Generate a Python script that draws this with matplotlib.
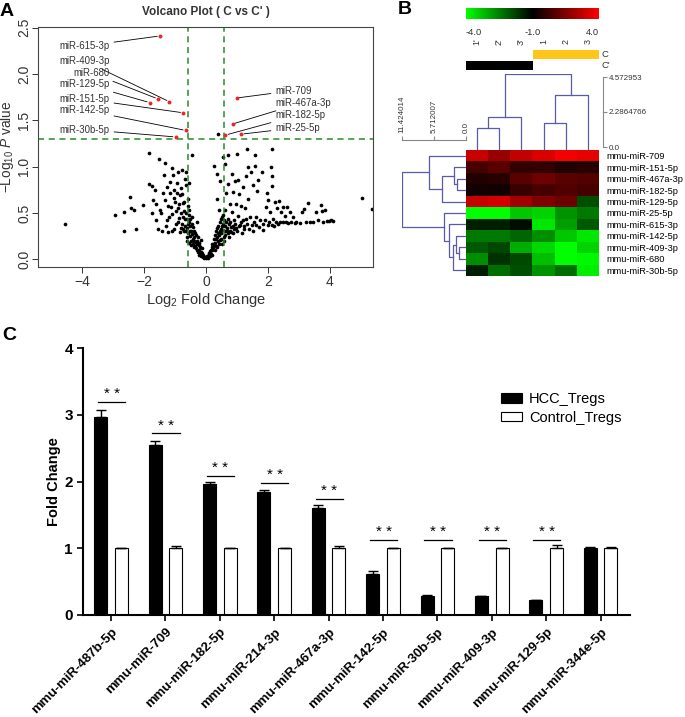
import numpy as np
import matplotlib
matplotlib.use('Agg')
import matplotlib.pyplot as plt
import matplotlib.font_manager as fm
from matplotlib.colors import LinearSegmentedColormap

plt.rcParams['font.family'] = ['Liberation Sans', 'DejaVu Sans']
plt.rcParams['mathtext.fontset'] = 'custom'
plt.rcParams['mathtext.rm'] = 'Liberation Sans'
plt.rcParams['mathtext.it'] = 'Liberation Sans:italic'
plt.rcParams['mathtext.bf'] = 'Liberation Sans:bold'

names = {f.name for f in fm.fontManager.ttflist}
narrow = 'Liberation Sans Narrow' if 'Liberation Sans Narrow' in names else 'Liberation Sans'
nf = 1.0 if narrow == 'Liberation Sans Narrow' else 0.85

# ---------------- data: volcano (log2 FC, -log10 p) ----------------
volcano_points = [
    (-4.54, 0.38), (-2.94, 0.48), (-2.65, 0.51), (-2.65, 0.30), (-2.45, 0.67), (-2.42, 0.55),
    (-2.31, 0.53), (-2.26, 0.33), (-2.02, 0.59), (-1.85, 0.81), (-1.83, 1.15), (-1.75, 0.79),
    (-1.75, 0.50), (-1.70, 0.64), (-1.65, 0.75), (-1.61, 0.42), (-1.54, 0.33), (-1.51, 1.08),
    (-1.48, 0.53), (-1.43, 0.31), (-1.38, 0.71), (-1.34, 0.91), (-1.32, 1.04), (-1.32, 0.64),
    (-1.27, 0.78), (-1.27, 0.42), (-1.24, 0.29), (-1.22, 0.58), (-1.16, 0.83), (-1.16, 0.71),
    (-1.11, 0.98), (-1.08, 0.49), (-1.05, 0.91), (-1.03, 0.75), (-1.02, 0.33), (-1.00, 0.62),
    (-0.97, 0.38), (-0.95, 0.82), (-0.91, 0.55), (-0.89, 0.94), (-0.87, 0.45), (-0.84, 0.69),
    (-0.84, 0.29), (-0.81, 0.77), (-0.78, 0.96), (-0.78, 0.38), (-0.75, 0.61), (-0.73, 0.33),
    (-0.71, 0.52), (-0.68, 0.87), (-0.68, 0.44), (-0.65, 0.94), (-0.62, 0.24), (-0.59, 0.65),
    (-0.57, 0.38), (-0.55, 0.82), (-0.54, 0.53), (-0.52, 0.31), (-0.49, 0.15), (-0.46, 1.13),
    (-0.46, 0.46), (-0.43, 0.22), (-0.41, 0.35), (-0.39, 0.13), (-0.35, 0.28), (-0.32, 0.19),
    (-0.30, 0.40), (-0.28, 0.10), (-0.25, 0.24), (-0.22, 0.15), (-0.19, 0.06), (-0.16, 0.21),
    (-0.14, 0.12), (-0.11, 0.04), (-0.06, 0.03), (-0.03, 0.02), (0.02, 0.02), (0.08, 0.03),
    (0.11, 0.06), (0.15, 0.10), (0.18, 0.13), (0.20, 0.05), (0.24, 0.17), (0.26, 1.01),
    (0.29, 0.10), (0.31, 0.22), (0.34, 0.92), (0.34, 0.65), (0.37, 0.13), (0.40, 0.28),
    (0.42, 0.53), (0.45, 0.21), (0.45, 0.85), (0.47, 0.33), (0.51, 0.46), (0.53, 0.17),
    (0.56, 1.10), (0.56, 0.38), (0.58, 0.24), (0.61, 1.03), (0.61, 0.53), (0.65, 0.71),
    (0.67, 0.31), (0.70, 0.81), (0.72, 1.12), (0.72, 0.44), (0.75, 0.24), (0.77, 0.60),
    (0.81, 0.35), (0.83, 0.92), (0.85, 0.51), (0.88, 0.73), (0.88, 0.28), (0.91, 0.42),
    (0.94, 0.85), (0.97, 0.60), (0.99, 1.14), (1.01, 0.31), (1.02, 0.86), (1.04, 0.47),
    (1.08, 0.70), (1.10, 0.37), (1.12, 0.57), (1.15, 0.28), (1.18, 0.42), (1.20, 0.78),
    (1.24, 0.33), (1.26, 0.55), (1.29, 0.90), (1.31, 1.19), (1.33, 0.38), (1.37, 1.00),
    (1.37, 0.65), (1.40, 0.33), (1.42, 0.46), (1.44, 0.94), (1.47, 0.37), (1.51, 0.80),
    (1.53, 0.31), (1.55, 0.40), (1.58, 1.12), (1.58, 1.01), (1.60, 0.46), (1.63, 0.37),
    (1.66, 0.74), (1.69, 0.86), (1.72, 0.35), (1.74, 0.42), (1.80, 0.94), (1.83, 0.38),
    (1.85, 0.32), (1.90, 0.42), (1.94, 0.56), (1.96, 0.71), (1.99, 0.37), (2.01, 0.64),
    (2.04, 0.40), (2.06, 0.51), (2.10, 1.00), (2.12, 1.19), (2.12, 0.90), (2.12, 0.79),
    (2.14, 0.37), (2.17, 0.44), (2.19, 0.36), (2.23, 0.62), (2.26, 0.40), (2.28, 0.55),
    (2.31, 0.38), (2.37, 0.63), (2.39, 0.40), (2.42, 0.51), (2.47, 0.56), (2.49, 0.40),
    (2.55, 0.47), (2.58, 0.40), (2.62, 0.56), (2.66, 0.39), (2.71, 0.51), (2.76, 0.40),
    (2.82, 0.46), (2.87, 0.39), (2.92, 0.40), (3.03, 0.39), (3.09, 0.51), (3.16, 0.54),
    (3.23, 0.40), (3.30, 0.61), (3.35, 0.40), (3.46, 0.40), (3.55, 0.51), (3.62, 0.42),
    (3.70, 0.59), (3.73, 0.52), (3.78, 0.40), (3.84, 0.53), (3.89, 0.41), (3.98, 0.41),
    (4.05, 0.42), (4.11, 0.41), (5.03, 0.66), (5.35, 0.54), (0.40, 1.35),
    # dense centre
    (-0.65, 0.30), (-0.62, 0.20), (-0.60, 0.34), (-0.58, 0.28), (-0.56, 0.18), (-0.55, 0.40),
    (-0.53, 0.25), (-0.50, 0.36), (-0.48, 0.30), (-0.47, 0.20), (-0.45, 0.27), (-0.44, 0.38),
    (-0.42, 0.17), (-0.40, 0.24), (-0.38, 0.31), (-0.37, 0.20), (-0.35, 0.14), (-0.33, 0.26),
    (-0.31, 0.12), (-0.30, 0.20), (-0.28, 0.16), (-0.26, 0.08), (-0.24, 0.18), (-0.22, 0.10),
    (-0.21, 0.05), (-0.19, 0.13), (-0.17, 0.08), (-0.15, 0.04), (-0.13, 0.07), (-0.10, 0.02),
    (-0.08, 0.05), (-0.05, 0.01), (0.00, 0.01), (0.04, 0.04), (0.06, 0.01), (0.09, 0.07),
    (0.12, 0.04), (0.14, 0.09), (0.17, 0.06), (0.19, 0.16), (0.21, 0.10), (0.23, 0.12),
    (0.25, 0.22), (0.27, 0.15), (0.28, 0.26), (0.30, 0.18), (0.32, 0.30), (0.33, 0.14),
    (0.35, 0.24), (0.36, 0.34), (0.38, 0.20), (0.40, 0.36), (0.41, 0.16), (0.43, 0.26),
    (0.44, 0.40), (0.46, 0.30), (0.48, 0.22), (0.49, 0.44), (0.50, 0.28), (0.52, 0.36),
    (0.54, 0.48), (0.55, 0.32), (0.57, 0.20), (0.58, 0.42), (0.60, 0.30), (0.62, 0.36),
    (0.63, 0.26), (0.65, 0.40), (0.68, 0.34), (0.70, 0.28), (0.73, 0.38), (0.76, 0.31),
    (0.79, 0.40), (0.82, 0.29), (0.86, 0.36), (0.90, 0.33), (0.95, 0.38), (0.98, 0.34),
    (1.05, 0.36), (1.12, 0.40), (1.22, 0.36), (1.28, 0.44),
    (-1.20, 0.46), (-1.12, 0.56), (-1.02, 0.66), (-0.96, 0.52), (-0.92, 0.72), (-0.90, 0.40),
    (-0.86, 0.60), (-0.82, 0.50), (-0.80, 0.34), (-0.77, 0.70), (-0.74, 0.46), (-0.72, 0.30),
    (-0.70, 0.62), (-0.68, 0.36), (-0.66, 0.50), (-0.63, 0.80), (-0.61, 0.44), (-0.58, 0.58),
    (-0.56, 0.48), (-0.52, 0.44), (-1.45, 0.50), (-1.60, 0.60), (-1.30, 0.36), (-1.10, 0.30),
]

sig_names = ['miR-615-3p', 'miR-409-3p', 'miR-680', 'miR-129-5p', 'miR-151-5p', 'miR-142-5p',
             'miR-30b-5p', 'miR-709', 'miR-467a-3p', 'miR-182-5p', 'miR-25-5p']
sig_fc = [-1.48, -1.18, -1.55, -1.81, -0.73, -0.65, -0.98, 0.99, 0.86, 0.63, 1.14]
sig_p = [2.41, 1.70, 1.73, 1.69, 1.58, 1.39, 1.32, 1.74, 1.46, 1.34, 1.35]
sig_label_y = [2.30, 2.14, 2.01, 1.89, 1.73, 1.61, 1.40, 1.82, 1.69, 1.56, 1.42]

# ---------------- data: heatmap ----------------
hm_cols = ["1'", "2'", "3'", "1", "2", "3"]
hm_groups = ["C'", "C'", "C'", "C", "C", "C"]
hm_rows = ['mmu-miR-709', 'mmu-miR-151-5p', 'mmu-miR-467a-3p', 'mmu-miR-182-5p',
           'mmu-miR-129-5p', 'mmu-miR-25-5p', 'mmu-miR-615-3p', 'mmu-miR-142-5p',
           'mmu-miR-409-3p', 'mmu-miR-680', 'mmu-miR-30b-5p']
hm_values = [
    [3.1, 2.4, 3.0, 3.4, 3.8, 3.6],
    [1.1, 1.4, 0.8, 0.8, 0.5, 0.6],
    [0.5, 0.6, 1.4, 1.7, 1.4, 1.3],
    [0.3, 0.3, 0.9, 1.1, 1.25, 1.1],
    [3.1, 3.3, 2.5, 2.0, 1.7, -1.25],
    [-4.0, -4.0, -3.1, -3.3, -2.3, -1.9],
    [-0.5, -0.5, -0.2, -3.6, -2.5, -1.4],
    [-1.9, -1.9, -1.6, -2.2, -3.1, -3.6],
    [-1.4, -1.1, -2.7, -3.4, -4.0, -3.3],
    [-2.2, -0.8, -1.1, -3.0, -4.0, -3.9],
    [-0.5, -1.7, -1.25, -2.3, -1.7, -3.75],
]
# dendrograms: (left, right, merge height), leaves are display indices
col_tree = (((0, 1, 1.31), 2, 1.97), ((3, 4, 1.61), 5, 3.32), 4.572953)
row_tree = ((0, ((1, (2, 3, 1.62), 2.22), 4, 4.33), 6.55),
            (5, (6, (10, (7, (8, 9, 1.20), 1.74), 2.40), 3.13), 4.03), 11.424014)

# ---------------- data: qPCR bars ----------------
mirs_c = ['mmu-miR-487b-5p', 'mmu-miR-709', 'mmu-miR-182-5p', 'mmu-miR-214-3p',
          'mmu-miR-467a-3p', 'mmu-miR-142-5p', 'mmu-miR-30b-5p', 'mmu-miR-409-3p',
          'mmu-miR-129-5p', 'mmu-miR-344e-5p']
hcc = [2.97, 2.54, 1.96, 1.84, 1.60, 0.61, 0.29, 0.28, 0.22, 1.00]
hcc_err = [0.10, 0.07, 0.04, 0.04, 0.05, 0.05, 0.01, 0.01, 0.01, 0.02]
ctrl = [1.00, 1.01, 1.00, 1.00, 1.01, 1.00, 1.00, 1.00, 1.01, 1.00]
ctrl_err = [0.01, 0.02, 0.01, 0.01, 0.02, 0.01, 0.01, 0.01, 0.04, 0.02]
star_y = [3.19, 2.72, 2.08, 1.98, 1.74, 1.13, 1.13, 1.13, 1.13, None]

W, H = 685, 717
fig = plt.figure(figsize=(W / 100, H / 100), dpi=100)


def box(l, t, r, b):
    return [l / W, 1 - b / H, (r - l) / W, (b - t) / H]


# ================= A: volcano =================
ax = fig.add_axes(box(38, 27, 373, 267))
vp = np.array(volcano_points)
ax.scatter(vp[:, 0], vp[:, 1], s=7, c='black', lw=0)
ax.scatter(sig_fc, sig_p, s=8, c='#e8262b', lw=0, zorder=3)
gcol = '#2a8a2a'
ax.axhline(-np.log10(0.05), color=gcol, ls=(0, (4, 3)), lw=1.1)
ax.axvline(np.log2(1.5), color=gcol, ls=(0, (4, 3)), lw=1.1)
ax.axvline(-np.log2(1.5), color=gcol, ls=(0, (4, 3)), lw=1.1)
for n, x, y, ly in zip(sig_names, sig_fc, sig_p, sig_label_y):
    tx, ha = (-3.1, 'right') if x < 0 else (2.23, 'left')
    ax.annotate(n, xy=(x, y), xytext=(tx, ly), ha=ha, va='center', fontsize=6.9,
                color='#333333',
                arrowprops=dict(arrowstyle='-', lw=0.6, color='black', shrinkA=1, shrinkB=2))
ax.set_xlim(-5.42, 5.39)
ax.set_ylim(-0.083, 2.506)
ax.set_xticks([-4, -2, 0, 2, 4])
ax.set_yticks([0, 0.5, 1.0, 1.5, 2.0, 2.5])
ax.set_yticklabels(['0.0', '0.5', '1.0', '1.5', '2.0', '2.5'], rotation=90, va='center')
ax.tick_params(labelsize=10, length=4, width=0.7, colors='#333333', pad=2)
ax.tick_params(axis='y', pad=1)
for s in ax.spines.values():
    s.set_linewidth(0.8)
    s.set_color('#444444')
ax.set_xlabel(r'Log$_2$ Fold Change', fontsize=10.5, labelpad=1, color='#333333')
ax.set_ylabel(r'$-$Log$_{10}$ $\it{P}$ value', fontsize=9.8, color='#333333')
ax.yaxis.set_label_coords(-21.5 / 335, 0.5)
ax.set_title("Volcano Plot ( C vs C' )", fontsize=8.5, fontweight='bold', pad=9, color='#333333')
fig.text(7 / W, 1 - 11 / H, 'A', fontsize=14, fontweight='bold', ha='center', va='center')

# ================= B: heatmap =================
cmap = LinearSegmentedColormap.from_list('gkr', ['#00ff00', '#000000', '#ff0000'])
dcol = '#5a5aaa'
hl, hr, ht, hb = 466, 599, 150, 276

axh = fig.add_axes(box(hl, ht, hr, hb))
axh.imshow(np.array(hm_values), cmap=cmap, vmin=-4, vmax=4, aspect='auto',
           extent=(0, len(hm_cols), len(hm_rows), 0), interpolation='nearest')
axh.set_xticks([])
axh.yaxis.tick_right()
axh.set_yticks(np.arange(len(hm_rows)) + 0.5)
axh.set_yticklabels(hm_rows, fontsize=7.9 * nf, family=narrow)
axh.tick_params(axis='y', length=0, pad=5)
for s in axh.spines.values():
    s.set_visible(False)

# colour key
axk = fig.add_axes(box(hl, 8, hr, 19))
axk.imshow(np.linspace(-4, 4, 256)[None, :], cmap=cmap, aspect='auto', extent=(-4, 4, 0, 1))
axk.set_axis_off()
for x, lab, ha in [(0.0, '-4.0', 'left'), (0.5, '-1.0', 'center'), (1.0, '4.0', 'right')]:
    axk.text(x, -1.2, lab, transform=axk.transAxes, ha=ha, va='center',
             fontsize=8 * nf, family=narrow, color='#333333')

# group bars
axg = fig.add_axes(box(hl, 50, hr, 72))
grp_row = {'C': 0, "C'": 1}
grp_col = {'C': '#ffc61a', "C'": '#000000'}
for i, g in enumerate(hm_groups):
    axg.bar(i + 0.5, 0.85, bottom=grp_row[g], width=1.0, color=grp_col[g], lw=0)
    axg.text(i + 0.5, -0.75, hm_cols[i], rotation=90, ha='center', va='center',
             fontsize=7.5 * nf, family=narrow, color='#333333')
for g, r in grp_row.items():
    axg.text(6.12, r + 0.45, g, ha='left', va='center', fontsize=8 * nf, family=narrow,
             color='#333333')
axg.set_xlim(0, 6)
axg.set_ylim(2, 0)
axg.set_axis_off()


def draw_tree(a, node, horizontal):
    if isinstance(node, int):
        return node + 0.5, 0.0
    lp, lh = draw_tree(a, node[0], horizontal)
    rp, rh = draw_tree(a, node[1], horizontal)
    h = node[2]
    pos, hts = [lp, lp, rp, rp], [lh, h, h, rh]
    if horizontal:
        a.plot(hts, pos, color=dcol, lw=0.9)
    else:
        a.plot(pos, hts, color=dcol, lw=0.9)
    return (lp + rp) / 2, h


# column dendrogram
axc = fig.add_axes(box(hl, 74.3, hr, ht))
draw_tree(axc, col_tree, False)
axc.set_xlim(0, 6)
axc.set_ylim(0, col_tree[2])
axc.set_axis_off()

# its scale bar
axs = fig.add_axes(box(hl, 77, hr, 147))
axs.patch.set_visible(False)
for k in ['top', 'bottom', 'left']:
    axs.spines[k].set_visible(False)
axs.spines['right'].set_position(('outward', 3))
axs.spines['right'].set_color('#888888')
axs.set_xticks([])
axs.set_ylim(0, col_tree[2])
axs.yaxis.tick_right()
axs.set_yticks([0, col_tree[2] / 2, col_tree[2]])
axs.set_yticklabels(['0.0', '2.2864766', '4.572953'], fontsize=6.8 * nf, family=narrow)
axs.tick_params(axis='y', length=3, width=0.8, color='#888888', labelcolor='#333333', pad=1)

# row dendrogram
axr = fig.add_axes(box(402.3, ht, hl, hb))
draw_tree(axr, row_tree, True)
axr.set_xlim(row_tree[2], 0)
axr.set_ylim(len(hm_rows), 0)
for k in ['right', 'bottom', 'left']:
    axr.spines[k].set_visible(False)
axr.spines['top'].set_position(('outward', 7))
axr.spines['top'].set_color('#888888')
axr.set_yticks([])
axr.xaxis.tick_top()
axr.set_xticks([row_tree[2], row_tree[2] / 2, 0])
axr.set_xticklabels(['11.424014', '5.712007', '0.0'], rotation=90, fontsize=6.8 * nf,
                    family=narrow)
axr.tick_params(axis='x', length=3, width=0.8, color='#888888', labelcolor='#333333', pad=2)
fig.text(405 / W, 1 - 9 / H, 'B', fontsize=14, fontweight='bold', ha='center', va='center')

# ================= C: bars =================
axb = fig.add_axes(box(83.3, 348, 630, 615))
x = np.arange(len(mirs_c))
off, bw = 0.19, 0.24
axb.bar(x - off, hcc, bw, color='black', edgecolor='black', lw=0.8, label='HCC_Tregs',
        yerr=[np.zeros(len(hcc)), hcc_err], capsize=3.5,
        error_kw=dict(elinewidth=1, capthick=1))
axb.bar(x + off, ctrl, bw, color='white', edgecolor='black', lw=0.8, label='Control_Tregs',
        yerr=[np.zeros(len(ctrl)), ctrl_err], capsize=3.5,
        error_kw=dict(elinewidth=1, capthick=1))
for xi, sy in zip(x, star_y):
    if sy is None:
        continue
    axb.plot([xi - 0.24, xi + 0.26], [sy, sy], color='black', lw=0.9)
    axb.text(xi + 0.01, sy + 0.01, '* *', ha='center', va='bottom', fontsize=11)
axb.set_xlim(-0.51, 9.54)
axb.set_ylim(0, 4)
axb.set_yticks([0, 1, 2, 3, 4])
axb.set_yticklabels(['0', '1', '2', '3', '4'], fontweight='bold', fontsize=11)
axb.set_xticks(x)
axb.set_xticklabels(mirs_c, rotation=45, ha='right', rotation_mode='anchor',
                    fontweight='bold', fontsize=9.5)
axb.tick_params(axis='both', length=4, width=1.2)
axb.tick_params(axis='x', pad=4)
for k in ['top', 'right']:
    axb.spines[k].set_visible(False)
for k in ['left', 'bottom']:
    axb.spines[k].set_linewidth(1.5)
axb.set_ylabel('Fold Change', fontweight='bold', fontsize=10.5)
axb.yaxis.set_label_coords(-22.3 / 546.7, 0.5)
axb.legend(loc='upper left', bbox_to_anchor=(494 / W, 1 - 385 / H),
           bbox_transform=fig.transFigure, frameon=False, fontsize=10.5, handlelength=1.45,
           handleheight=0.65, labelspacing=0.3, handletextpad=0.45, borderpad=0)
fig.text(9 / W, 1 - 335 / H, 'C', fontsize=14, fontweight='bold', ha='center', va='center')

fig.savefig('out.png', dpi=100)
